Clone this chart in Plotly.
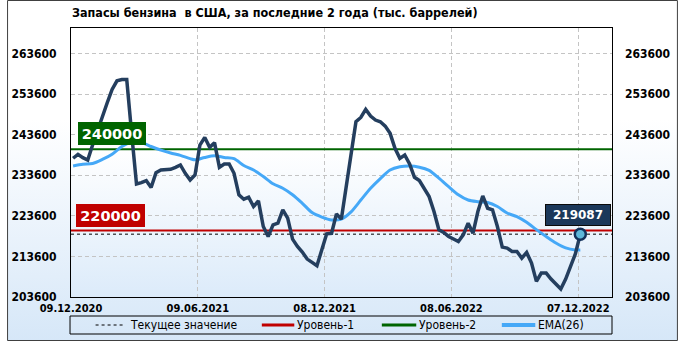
import base64
import pandas as pd
import plotly.graph_objects as go

# ---------------- data ----------------
dates = pd.date_range("2020-12-12", periods=105, freq="7D")
stocks = [
    237800, 238760, 237940, 237370, 241060, 244750, 248190, 251470, 254750, 256880,
    257200, 257200, 244000, 231470, 231800, 232290, 230570, 234260, 234910, 235080,
    235080, 235570, 236140, 234090, 232450, 233680, 241060, 242940, 240480, 241630,
    235570, 236380, 236380, 234090, 228760, 227700, 228190, 225900, 227290, 220980,
    218520, 221390, 221800, 225080, 223020, 217860, 216050, 214670, 212950, 212120,
    211300, 215240, 219180, 219300, 224090, 222780, 230810, 239170, 246800, 247860,
    249830, 248190, 247210, 246800, 245730, 243930, 240240, 237780, 238600, 236380,
    233110, 232290, 230400, 228350, 224660, 220160, 219500, 218520, 217900, 217290,
    218930, 221800, 219340, 224660, 228520, 225480, 225080, 220980, 215900, 215650,
    214830, 214830, 213190, 214580, 211960, 207450, 209500, 209500, 208020, 206880,
    205560, 208020, 211140, 214260, 219087,
]
ema_weeks = [0, 2, 4, 6, 8, 10, 12, 14, 16, 18, 20, 22, 24, 25, 27, 29, 31, 33, 35, 37,
             39, 41, 43, 45, 47, 49, 51, 53, 55, 57, 59, 61, 63, 65, 67, 69, 71, 73, 75,
             77, 79, 81, 83, 85, 87, 89, 91, 93, 95, 97, 99, 101, 103, 104]
ema_values = [235900, 236300, 236500, 237500, 238800, 240700, 241800, 241700, 240700,
              239800, 239100, 238500, 237700, 237400, 238000, 238400, 238000, 237700,
              236000, 234900, 233300, 231500, 230400, 228800, 226700, 224400, 223300,
              222600, 222800, 224600, 227500, 230400, 232800, 234900, 235700, 235900,
              235600, 234800, 232900, 230800, 228800, 227500, 227100, 226900, 225900,
              224300, 223400, 222000, 220200, 218500, 216900, 215700, 215200, 215200]
level1 = 220000
level2 = 240000
current = stocks[-1]
tick_dates = ["2020-12-09", "2021-06-09", "2021-12-08", "2022-06-08", "2022-12-07"]
tick_labels = ["09.12.2020", "09.06.2021", "08.12.2021", "08.06.2022", "07.12.2022"]
y_ticks = [203600, 213600, 223600, 233600, 243600, 253600, 263600]
legend_names = ["Текущее значение", "Уровень-1", "Уровень-2", "EMA(26)"]
title_text = "Запасы бензина\u00a0 в США, за последние 2 года (тыс. баррелей)"

# ---------------- geometry ----------------
W, H = 682, 341
L, R, T, B = 65, 67, 28, 44
PW, PH = W - L - R, H - T - B
X_RANGE = ["2020-12-09", "2023-01-24 12:00"]
Y_RANGE = [203600, 269905]


def fx(x):
    return (x - L) / PW


def fy(y):
    return (H - B - y) / PH


NAVY = "#243e5e"
EMA_C = "#45a8f7"
RED = "#c00000"
GREEN = "#006400"
COND = "DejaVu Sans Condensed, DejaVu Sans, sans-serif"
BOLD = "DejaVu Sans, sans-serif"


def grad_svg(top, mid_off, bottom):
    svg = ('<svg xmlns="http://www.w3.org/2000/svg" width="10" height="100" viewBox="0 0 10 100" '
           'preserveAspectRatio="none"><defs><linearGradient id="g" x1="0" y1="0" x2="0" y2="1">'
           f'<stop offset="0" stop-color="{top}"/><stop offset="{mid_off}" stop-color="{top}"/>'
           f'<stop offset="1" stop-color="{bottom}"/></linearGradient></defs>'
           '<rect width="10" height="100" fill="url(#g)"/></svg>')
    return "data:image/svg+xml;base64," + base64.b64encode(svg.encode()).decode()


fig = go.Figure()

# level lines and current value
fig.add_trace(go.Scatter(x=X_RANGE, y=[current, current], mode="lines",
                         line=dict(color="black", width=1, dash="3px,3px"),
                         hoverinfo="skip", showlegend=False))
fig.add_trace(go.Scatter(x=X_RANGE, y=[level1, level1], mode="lines",
                         line=dict(color=RED, width=2), showlegend=False))
fig.add_trace(go.Scatter(x=X_RANGE, y=[level2, level2], mode="lines",
                         line=dict(color=GREEN, width=2), showlegend=False))
# EMA
fig.add_trace(go.Scatter(x=[dates[i] for i in ema_weeks], y=ema_values, mode="lines",
                         line=dict(color=EMA_C, width=3, shape="spline", smoothing=0.8),
                         showlegend=False))
# main series
fig.add_trace(go.Scatter(x=dates, y=stocks, mode="lines",
                         line=dict(color=NAVY, width=3.5), showlegend=False))
fig.add_trace(go.Scatter(x=[dates[-1]], y=[current], mode="markers",
                         marker=dict(size=11, color="#5eb7d9", line=dict(color="#12305a", width=2.5)),
                         showlegend=False))
# invisible trace for right axis
fig.add_trace(go.Scatter(x=[dates[0]], y=[current], yaxis="y2", mode="markers",
                         marker=dict(opacity=0), showlegend=False, hoverinfo="skip"))

shapes = []
annotations = []

# frame
shapes.append(dict(type="rect", xref="paper", yref="paper", x0=fx(0.5), x1=fx(W - 0.5),
                   y0=fy(H - 0.5), y1=fy(0.5), line=dict(color="#404040", width=1), layer="above"))

# legend box
shapes.append(dict(type="rect", xref="paper", yref="paper", x0=fx(64), x1=fx(615),
                   y0=fy(334), y1=fy(316), line=dict(color="black", width=1)))
leg_y = fy(325)
sym = [(90, 120, "black", 1, "3px,3px"), (259, 292, RED, 3, "solid"),
       (381, 416, GREEN, 3, "solid"), (503, 537, EMA_C, 4, "solid")]
txt_x = [123, 293, 417, 538]
for (a, b, c, w, d), tx, name in zip(sym, txt_x, legend_names):
    shapes.append(dict(type="line", xref="paper", yref="paper", x0=fx(a), x1=fx(b),
                       y0=leg_y, y1=leg_y, line=dict(color=c, width=w, dash=d)))
    annotations.append(dict(text=name, xref="paper", yref="paper", x=fx(tx), y=leg_y,
                            xanchor="left", yanchor="middle", showarrow=False,
                            font=dict(family=COND, size=12, color="black")))

# title
annotations.append(dict(text=title_text, xref="paper", yref="paper", x=fx(64), y=fy(13),
                        xanchor="left", yanchor="middle", showarrow=False,
                        font=dict(family=COND, size=12.5, color="black", weight="bold")))

# level labels


def box_label(text, x0, y0, w, h, bg, size, border=None):
    annotations.append(dict(text=text, xref="paper", yref="paper", x=fx(x0), y=fy(y0),
                            xanchor="left", yanchor="top", showarrow=False, width=w, height=h,
                            align="center", valign="middle", bgcolor=bg, borderpad=0,
                            bordercolor=border or bg, borderwidth=1 if border else 0,
                            font=dict(family=BOLD, size=size, color="white", weight="bold")))


box_label(f"{level2}", 72, 122, 68, 23, GREEN, 14.5)
box_label(f"{level1}", 70, 204, 69, 23, RED, 14.5)
box_label(f"{current}", 547, 204, 64, 20, "#1b385a", 12, border="#0a0a0a")

fig.update_layout(
    width=W, height=H, margin=dict(l=L, r=R, t=T, b=B, pad=0),
    paper_bgcolor="white", plot_bgcolor="rgba(0,0,0,0)",
    showlegend=False,
    images=[
        dict(source=grad_svg("#ffffff", 0.35, "#d6e7f8"), xref="paper", yref="paper",
             x=fx(0), y=fy(0), sizex=W / PW, sizey=H / PH, xanchor="left", yanchor="top",
             sizing="stretch", layer="below"),
        dict(source=grad_svg("#ffffff", 0.45, "#dcebfa"), xref="paper", yref="paper",
             x=0, y=1, sizex=1, sizey=1, xanchor="left", yanchor="top",
             sizing="stretch", layer="below"),
    ],
    xaxis=dict(type="date", range=X_RANGE, tickvals=tick_dates, ticktext=tick_labels,
               showgrid=True, gridcolor="#c4c4c4", griddash="4px,3px", gridwidth=1,
               showline=True, linecolor="black", linewidth=1, mirror=True,
               ticks="", ticklabelstandoff=1, zeroline=False,
               tickfont=dict(family=COND, size=11, color="black", weight="bold")),
    yaxis=dict(range=Y_RANGE, tickvals=y_ticks, ticktext=[str(v) for v in y_ticks],
               showgrid=True, gridcolor="#c4c4c4", griddash="4px,3px", gridwidth=1,
               showline=True, linecolor="black", linewidth=1, mirror=True,
               ticks="", ticklabelstandoff=11, zeroline=False,
               tickfont=dict(family=COND, size=12, color="black", weight="bold")),
    yaxis2=dict(range=Y_RANGE, tickvals=y_ticks, ticktext=[str(v) for v in y_ticks],
                overlaying="y", side="right", showgrid=False, zeroline=False,
                ticks="", ticklabelstandoff=12,
                tickfont=dict(family=COND, size=12, color="black", weight="bold")),
    shapes=shapes, annotations=annotations,
)

fig.write_html("out.html")
